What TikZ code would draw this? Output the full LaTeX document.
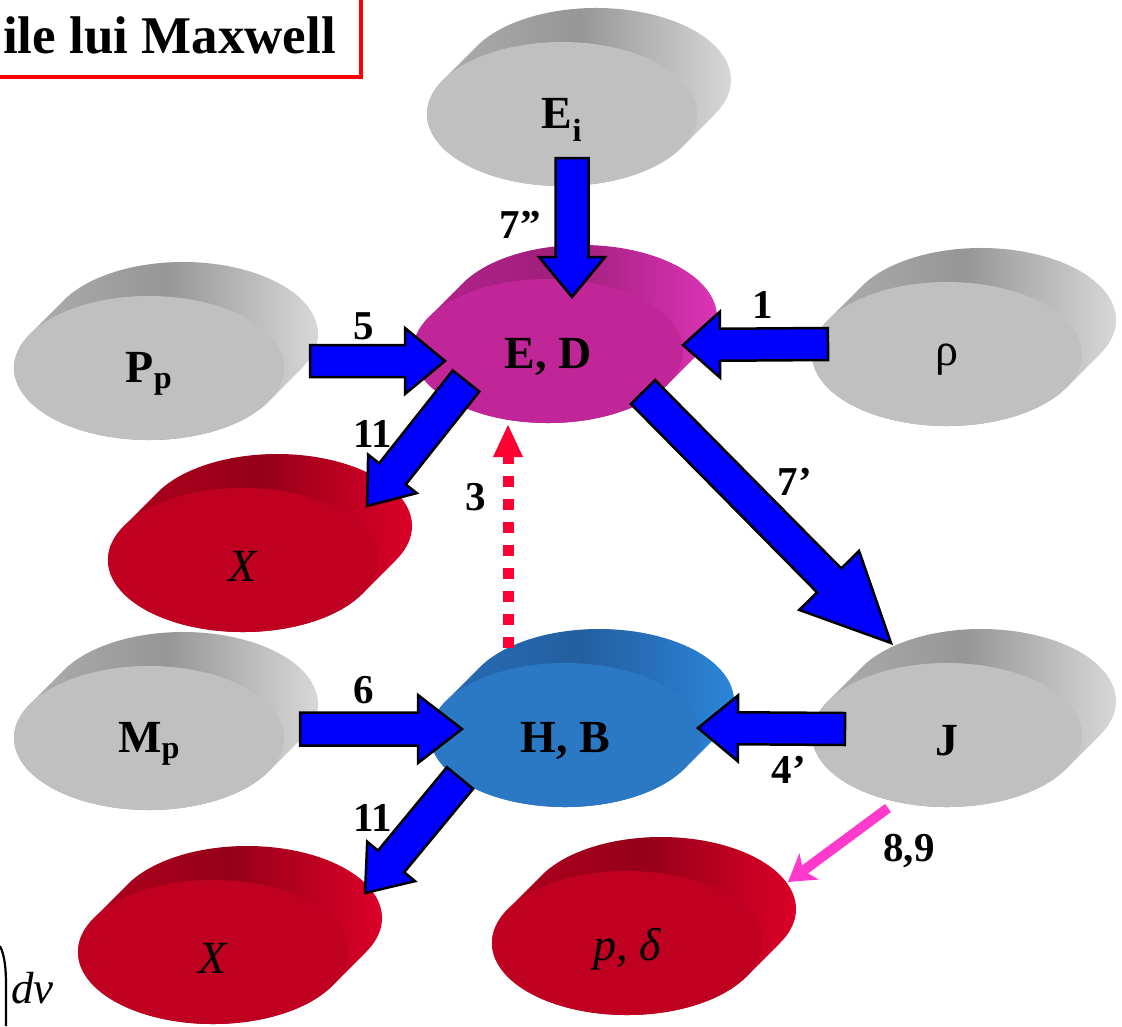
\documentclass[tikz,border=0pt]{standalone}
\usepackage{fontspec}
\setmainfont{Liberation Serif}
\usetikzlibrary{calc,arrows.meta}

\definecolor{grayF}{RGB}{192,192,192}
\definecolor{grayL}{RGB}{178,178,178}
\definecolor{grayM}{RGB}{150,150,150}
\definecolor{grayR}{RGB}{224,224,224}
\definecolor{magF}{RGB}{192,38,152}
\definecolor{magL}{RGB}{185,35,145}
\definecolor{magM}{RGB}{158,30,122}
\definecolor{magR}{RGB}{228,55,190}
\definecolor{bluF}{RGB}{43,120,196}
\definecolor{bluL}{RGB}{40,110,185}
\definecolor{bluM}{RGB}{35,95,160}
\definecolor{bluR}{RGB}{45,138,224}
\definecolor{redF}{RGB}{192,0,32}
\definecolor{redL}{RGB}{180,0,30}
\definecolor{redM}{RGB}{150,0,25}
\definecolor{redR}{RGB}{228,0,42}
\definecolor{arrblue}{RGB}{0,0,255}
\definecolor{dotred}{RGB}{255,0,51}
\definecolor{pinkarr}{RGB}{255,58,205}
\definecolor{titlered}{RGB}{255,0,0}

\tikzset{
  disktext/.style={inner sep=0pt, font=\fontsize{46}{46}\selectfont},
  lbl/.style={inner sep=0pt, font=\fontsize{41}{41}\selectfont\bfseries},
  blockarrowstyle/.style={fill=arrblue, draw=black, line width=2.5pt, line join=miter},
}

% name, x(px), y(px), colour prefix, label
\newcommand\mydisk[5]{%
  \coordinate (#1) at (#2,-#3);
  \path[left color=#4L, right color=#4R, middle color=#4M]
    ($(#1)+(34,34)$) ++(151.93:135 and 72)
    arc[start angle=151.93, end angle=-28.07, x radius=135, y radius=72]
    -- ++(-34,-34)
    arc[start angle=-28.07, end angle=-208.07, x radius=135, y radius=72]
    -- cycle;
  \fill[#4F] (#1) ellipse[x radius=135, y radius=72];
  \node[disktext] (#1t) at ($(#1)+(0,-6)$) {#5};
}

% start, tip, half shaft, half head, head length
\newcommand\blockarrow[5]{%
  \coordinate (hb) at ($(#2)!#5!(#1)$);
  \draw[blockarrowstyle] ($(#1)!#3!90:(#2)$) -- ($(hb)!#3!90:(#2)$)
    -- ($(hb)!#4!90:(#2)$) -- (#2) -- ($(hb)!#4!-90:(#2)$)
    -- ($(hb)!#3!-90:(#2)$) -- ($(#1)!#3!-90:(#2)$) -- cycle;
}

\begin{document}
\begin{tikzpicture}[x=1pt, y=1pt]
\useasboundingbox (0,0) rectangle (1122,-1026);
\fill[white] (0,0) rectangle (1122,-1026);

% title box
\draw[titlered, line width=4pt] (-20,20) rectangle (361,-77);
\node[inner sep=0pt, anchor=base east, font=\fontsize{53}{53}\selectfont\bfseries] (title) at (336,-53) {ile lui Maxwell};

% formula fragment bottom-left
\draw[line width=2.2pt] (0,-946) .. controls (5,-956) and (6,-970) .. (6,-985) -- (6,-1026);
\node[inner sep=0pt, anchor=base west, font=\fontsize{45}{45}\selectfont\itshape] (dv) at (11,-1003) {dv};

% disks
\mydisk{Ei}{562}{114}{gray}{\textbf{E\textsubscript{i}}}
\mydisk{ED}{548}{351}{mag}{\textbf{E, D}}
\mydisk{rho}{947}{354}{gray}{ρ}
\mydisk{Pp}{149}{368}{gray}{\textbf{P\textsubscript{p}}}
\mydisk{Xa}{243}{560}{red}{\textit{X}}
\mydisk{Mp}{149}{738}{gray}{\textbf{M\textsubscript{p}}}
\mydisk{HB}{565}{735}{blu}{\textbf{H, B}}
\mydisk{J}{947}{735}{gray}{\textbf{J}}
\mydisk{Xb}{213}{952}{red}{\textit{X}}
\mydisk{pd}{627}{943}{red}{\textit{p, δ}}

% arrow end points
\coordinate (a1s) at (572,-158);  \coordinate (a1t) at (572,-297);
\coordinate (a2s) at (310,-361);  \coordinate (a2t) at (445,-361);
\coordinate (a3s) at (828,-344);  \coordinate (a3t) at (683,-345);
\coordinate (a4s) at (466,-381);  \coordinate (a4t) at (367,-506);
\coordinate (a5s) at (643,-392);  \coordinate (a5t) at (891,-643);
\coordinate (a6s) at (300,-729);  \coordinate (a6t) at (462,-729);
\coordinate (a7s) at (845,-729);  \coordinate (a7t) at (698,-728);
\coordinate (a8s) at (460,-778);  \coordinate (a8t) at (365,-893);

\blockarrow{a1s}{a1t}{16.5pt}{33pt}{40pt}
\blockarrow{a2s}{a2t}{16pt}{33pt}{40pt}
\blockarrow{a3s}{a3t}{16pt}{33pt}{37pt}
\blockarrow{a4s}{a4t}{17pt}{31pt}{41pt}
\blockarrow{a5s}{a5t}{17pt}{42pt}{88pt}
\blockarrow{a6s}{a6t}{16.5pt}{34pt}{44pt}
\blockarrow{a7s}{a7t}{16pt}{33pt}{40pt}
\blockarrow{a8s}{a8t}{17pt}{31pt}{41pt}

% dotted red arrow H,B -> E,D
\coordinate (d1) at (508,-648);
\coordinate (d2) at (508,-457);
\coordinate (d3) at (508,-425);
\draw[dotred, line width=11pt, dash pattern=on 11pt off 12pt] (d1) -- (d2);
\fill[dotred] ($(d2)+(-15,0)$) -- (d3) -- ($(d2)+(15,0)$) -- cycle;

% pink arrow J -> p,delta
\coordinate (p1) at (888,-808);
\coordinate (p2) at (788,-882);
\draw[pinkarr, line width=10pt, -{Stealth[length=26pt, width=32pt, inset=7pt]}] (p1) -- (p2);

% connector labels
\node[lbl] (l7a) at (520,-225) {7”};
\node[lbl] (l5) at (364,-326) {5};
\node[lbl] (l1) at (763,-305) {1};
\node[lbl] (l11a) at (373,-434) {11};
\node[lbl] (l7b) at (795,-482) {7’};
\node[lbl] (l3) at (476,-497) {3};
\node[lbl] (l6) at (364,-690) {6};
\node[lbl] (l4) at (789,-770) {4’};
\node[lbl] (l11b) at (373,-818) {11};
\node[lbl] (l89) at (909,-851) {8,9};
\end{tikzpicture}
\end{document}
